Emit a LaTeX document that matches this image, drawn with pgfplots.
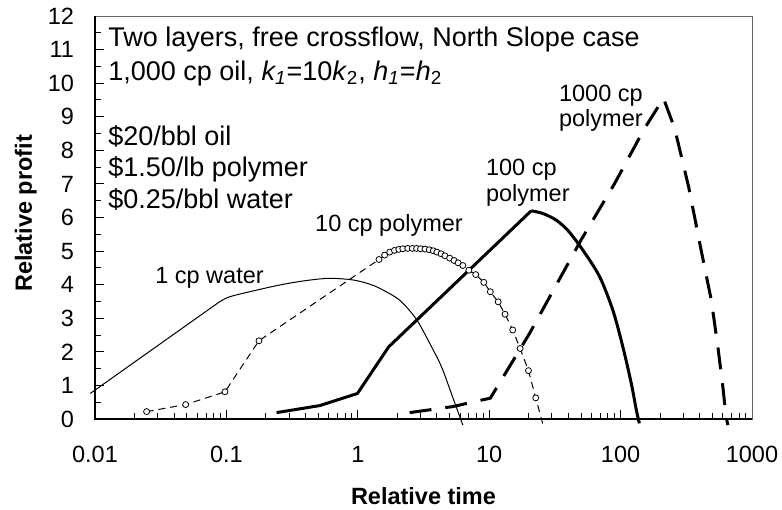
\documentclass[border=0pt]{standalone}
\usepackage{fontspec}
\setmainfont{Liberation Sans}
\usepackage{pgfplots}
\pgfplotsset{compat=1.18}
\newcommand{\fs}{\fontsize{11.75}{14}\selectfont}
\newcommand{\fa}{\fontsize{13.5}{15}\selectfont}
\begin{document}
\begin{tikzpicture}
\useasboundingbox (-47.5pt,-45pt) rectangle (343.5pt,209.5pt);
\begin{axis}[
  at={(0,0)}, anchor=south west,
  scale only axis, width=328.5pt, height=201.5pt,
  xmode=log, xmin=0.01, xmax=1000, ymin=0, ymax=12,
  xtick={0.01,0.1,1,10,100,1000},
  xticklabels={0.01,0.1,1,10,100,1000},
  ytick={0,1,...,12},
  minor y tick num=1,
  tick align=inside,
  tick pos=left,
  major tick length=4.5pt, minor tick length=3pt,
  every tick/.style={black, line width=0.5pt},
  axis line style={line width=0.5pt, black!60},
  tick label style={font=\fs},
  xticklabel style={yshift=-10pt},
  yticklabel style={xshift=-7pt},
  /pgf/number format/assume math mode=true,
  clip=false,
]
% 1 cp water
\addplot[black, line width=0.5pt] coordinates {
(0.0092,0.76) (0.0865,3.46)};
\addplot[black, line width=0.5pt, smooth, tension=0.5] coordinates {
(0.0865,3.46) (0.106,3.64) (0.18,3.86) (0.27,4.01) (0.384,4.11)
(0.514,4.17) (0.645,4.19) (0.92,4.14) (1.2,4.03) (1.47,3.89) (2.08,3.54)
(2.79,2.97) (3.53,2.25) (4.33,1.56) (5.15,0.76) (5.97,0.07) (6.3,-0.18)};
% 10 cp polymer line
\addplot[black, line width=0.5pt, dash pattern=on 3.5pt off 2.5pt] coordinates {
(0.0247,0.22) (0.049,0.43) (0.0975,0.81) (0.177,2.33) (1.45,4.75)
(1.6,4.88) (1.75,4.97) (1.9,5.02) (2.05,5.05) (2.2,5.07) (2.4,5.08) (2.6,5.08)
(2.8,5.08) (3.0,5.07) (3.25,5.06) (3.5,5.04) (3.75,5.01) (4.0,4.97) (4.3,4.92)
(4.6,4.86) (5.0,4.79) (5.4,4.72) (5.8,4.65) (6.3,4.57) (7.0,4.43) (7.9,4.3)
(9.1,4.07) (10.2,3.79) (11.7,3.49) (13.2,3.12) (15.1,2.65) (17.2,2.1)
(19.9,1.44) (22.6,0.63) (25.7,-0.18)};
% 10 cp polymer markers
\addplot[only marks, mark=*, mark size=1.5pt, mark options={fill=white, draw=black, line width=0.4pt}] coordinates {
(0.0247,0.22) (0.049,0.43) (0.0975,0.81) (0.177,2.33) (1.45,4.75)
(1.6,4.88) (1.75,4.97) (1.9,5.02) (2.05,5.05) (2.2,5.07) (2.4,5.08) (2.6,5.08)
(2.8,5.08) (3.0,5.07) (3.25,5.06) (3.5,5.04) (3.75,5.01) (4.0,4.97) (4.3,4.92)
(4.6,4.86) (5.0,4.79) (5.4,4.72) (5.8,4.65) (6.3,4.57) (7.0,4.43) (7.9,4.3)
(9.1,4.07) (10.2,3.79) (11.7,3.49) (13.2,3.12) (15.1,2.65) (17.2,2.1)
(19.9,1.44) (22.6,0.63)};
% 100 cp polymer
\addplot[black, line width=1.5pt] coordinates {
(0.241,0.19) (0.514,0.40) (0.994,0.76) (1.72,2.15) (20.9,6.2)};
\addplot[black, line width=1.5pt, smooth, tension=0.5] coordinates {
(20.9,6.2) (25.6,6.12)
(32.4,5.92) (40,5.6) (51.6,5.03) (69.2,4.24) (87.3,3.24) (104,2.15)
(120.6,1.06) (131.7,0.27) (139,-0.13)};
% 1000 cp polymer
\addplot[black, line width=1.5pt, dash pattern=on 11pt off 7pt] coordinates {
(2.48,0.19) (5.3,0.37) (8.2,0.54) (10.2,0.62) (20.3,2.55) (50,5.33) (90,7.01)
(152,8.65) (212,9.55) (258,8.65) (330,6.9) (410,5.03) (490,3.54) (550,2.15)
(600,0.96) (635,0.07) (655,-0.18)};
% thick left and bottom axis lines
\draw[black, line width=1pt] (rel axis cs:0,1) -- (rel axis cs:0,0) -- (rel axis cs:1,0);
% annotations
\node[anchor=base west, inner sep=0pt, font=\fa] at (axis cs:0.01256,11.09) {Two layers, free crossflow, North Slope case};
\node[anchor=base west, inner sep=0pt, font=\fa] at (axis cs:0.01256,10.09) {1,000 cp oil, \textit{k\textsubscript{1}}=10\textit{k}\textsubscript{2}, \textit{h\textsubscript{1}}=\textit{h}\textsubscript{2}};
\node[anchor=base west, inner sep=0pt, font=\fa] at (axis cs:0.01256,8.15) {\$20/bbl oil};
\node[anchor=base west, inner sep=0pt, font=\fa] at (axis cs:0.01256,7.21) {\$1.50/lb polymer};
\node[anchor=base west, inner sep=0pt, font=\fa] at (axis cs:0.01256,6.27) {\$0.25/bbl water};
\node[anchor=base west, inner sep=0pt, font=\fs] at (axis cs:0.02857,4.04) {1 cp water};
\node[anchor=base west, inner sep=0pt, font=\fs] at (axis cs:0.471,5.57) {10 cp polymer};
\node[anchor=base west, inner sep=0pt, font=\fs] at (axis cs:9.4,7.26) {100 cp};
\node[anchor=base west, inner sep=0pt, font=\fs] at (axis cs:9.4,6.47) {polymer};
\node[anchor=base west, inner sep=0pt, font=\fs] at (axis cs:33.8,9.44) {1000 cp};
\node[anchor=base west, inner sep=0pt, font=\fs] at (axis cs:33.8,8.70) {polymer};
% axis labels
\node[anchor=base, inner sep=0pt, font=\fs\bfseries] at ([yshift=-42.5pt]rel axis cs:0.5,0) {Relative time};
\node[anchor=base, inner sep=0pt, rotate=90, font=\fs\bfseries] at ([xshift=-31.5pt]rel axis cs:0,0.51) {Relative profit};
\end{axis}
\end{tikzpicture}
\end{document}
